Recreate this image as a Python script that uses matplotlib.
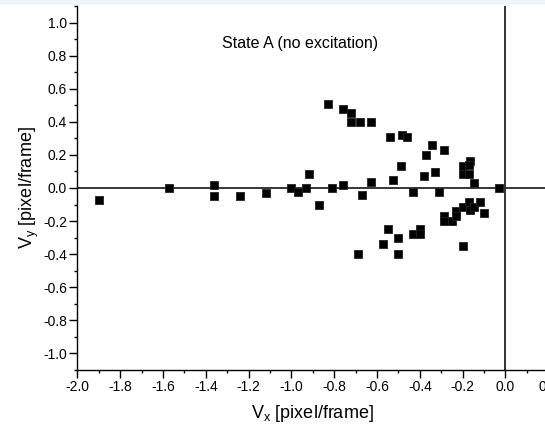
import matplotlib
matplotlib.use("Agg")
import matplotlib.pyplot as plt
from matplotlib.patches import Rectangle
from matplotlib.ticker import MultipleLocator, FormatStrFormatter

plt.rcParams['font.family'] = ['Liberation Sans', 'DejaVu Sans']
plt.rcParams['axes.unicode_minus'] = False

vx = [-1.90, -1.57, -1.36, -1.36, -1.24, -1.12, -1.00, -0.97, -0.93, -0.92,
      -0.87, -0.81, -0.76, -0.83, -0.76, -0.72, -0.72, -0.68, -0.63, -0.67,
      -0.63, -0.69, -0.54, -0.485, -0.46, -0.49, -0.525, -0.55, -0.57, -0.50,
      -0.50, -0.43, -0.43, -0.40, -0.40, -0.38, -0.37, -0.345, -0.33, -0.31,
      -0.285, -0.285, -0.285, -0.25, -0.23, -0.23, -0.20, -0.20, -0.20, -0.165,
      -0.17, -0.17, -0.145, -0.20, -0.17, -0.165, -0.145, -0.12, -0.10, -0.03]
vy = [-0.07, 0.0, 0.02, -0.05, -0.05, -0.03, 0.0, -0.025, 0.0, 0.085,
      -0.10, 0.0, 0.02, 0.51, 0.48, 0.455, 0.40, 0.40, 0.40, -0.04,
      0.035, -0.40, 0.31, 0.32, 0.31, 0.13, 0.05, -0.25, -0.34, -0.30,
      -0.40, -0.025, -0.28, -0.25, -0.28, 0.07, 0.20, 0.26, 0.095, -0.025,
      0.23, -0.17, -0.20, -0.20, -0.14, -0.17, -0.115, 0.135, 0.085, 0.165,
      0.14, 0.085, 0.03, -0.35, -0.085, -0.135, -0.115, -0.085, -0.15, 0.0]

title = "State A (no excitation)"
xlabel = r"V$_\mathregular{x}$ [pixel/frame]"
ylabel = r"V$_\mathregular{y}$ [pixel/frame]"

fig = plt.figure(figsize=(5.45, 4.30), dpi=100)
fig.patches.append(Rectangle((0, 425/430), 1, 5/430, transform=fig.transFigure,
                             facecolor='#eef5f8', edgecolor='none', zorder=10))
ax = fig.add_axes([77.3/545, 60/430, 471/545, 364/430])

ax.axhline(0, color='black', lw=1.1, zorder=1)
ax.axvline(0, color='#333333', lw=1.4, zorder=1)
ax.scatter(vx, vy, marker='s', s=34, color='black', edgecolor='#222222',
           linewidths=0.6, zorder=3)

ax.set_xlim(-2.0, 0.2)
ax.set_ylim(-1.1, 1.1)
ax.xaxis.set_major_locator(MultipleLocator(0.2))
ax.xaxis.set_minor_locator(MultipleLocator(0.1))
ax.yaxis.set_major_locator(MultipleLocator(0.2))
ax.yaxis.set_minor_locator(MultipleLocator(0.1))
ax.xaxis.set_major_formatter(FormatStrFormatter('%.1f'))
ax.yaxis.set_major_formatter(FormatStrFormatter('%.1f'))
ax.tick_params(which='major', direction='out', length=5.5, width=1, labelsize=10, pad=2)
ax.tick_params(which='minor', direction='out', length=2.5, width=1)

for s in ['top', 'right']:
    ax.spines[s].set_visible(False)
for s in ['left', 'bottom']:
    ax.spines[s].set_linewidth(1.0)

ax.text(-0.96, 0.875, title, ha='center', va='center', fontsize=11.5)
ax.set_xlabel(xlabel, fontsize=13, labelpad=6)
ax.set_ylabel(ylabel, fontsize=13, labelpad=1)

fig.savefig("out.png", dpi=100)
